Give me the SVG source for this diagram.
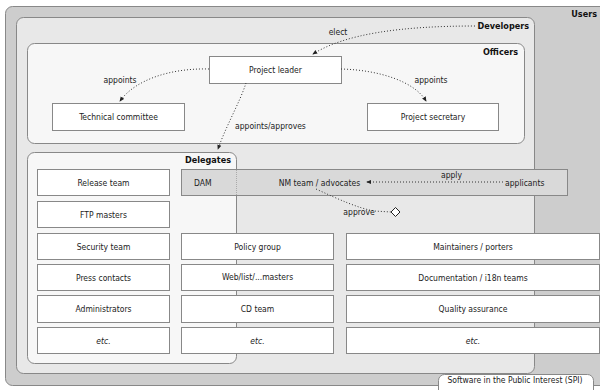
<svg xmlns="http://www.w3.org/2000/svg" width="600" height="390" viewBox="0 0 600 390">
<defs>
<style>
text{font-family:"DejaVu Sans Condensed","DejaVu Sans","Liberation Sans",sans-serif;font-stretch:condensed;font-size:8.5px;fill:#222}
.b{font-weight:bold;font-size:9px;text-anchor:end;fill:#111}
.c{text-anchor:middle}
.i{font-style:italic}
.box{fill:#fff;stroke:#888;stroke-width:1}
.grp{stroke:#888;stroke-width:1}
.dot{fill:none;stroke:#333;stroke-width:1;stroke-dasharray:1 2}
</style>
<marker id="ah" viewBox="0 0 6 6" refX="5" refY="3" markerWidth="5" markerHeight="5" orient="auto" markerUnits="userSpaceOnUse">
<path d="M0,0.5 L6,3 L0,5.5 z" fill="#222"/>
</marker>
</defs>
<rect width="600" height="390" fill="#fff"/>
<g id="users">
<rect class="grp" x="5.5" y="6.5" width="610" height="379" rx="7" fill="#cdcdcd" stroke="#8a8a8a"/>
<text class="b" x="597" y="17">Users</text>
</g>
<g id="developers">
<rect class="grp" x="16.5" y="17.5" width="518" height="356" rx="7" fill="#e8e8e8"/>
<text class="b" x="529" y="29">Developers</text>
</g>
<g id="officers">
<rect class="grp" x="27.5" y="43.5" width="497" height="100" rx="7" fill="#f7f7f7"/>
<text class="b" x="518" y="54.5">Officers</text>
</g>
<g id="project-leader">
<rect class="box" x="209.5" y="56.5" width="132" height="27"/>
<text class="c" x="275.5" y="73">Project leader</text>
</g>
<g id="technical-committee">
<rect class="box" x="52.5" y="103.5" width="132" height="27"/>
<text class="c" x="118.5" y="120">Technical committee</text>
</g>
<g id="project-secretary">
<rect class="box" x="367.5" y="103.5" width="131" height="27"/>
<text class="c" x="433" y="120">Project secretary</text>
</g>
<g id="delegates">
<rect class="grp" x="27.5" y="152.5" width="209" height="211" rx="7" fill="#f7f7f7"/>
<text class="b" x="231" y="163">Delegates</text>
</g>
<g id="nm-band">
<rect x="181.5" y="169.5" width="386" height="26" fill="#d9d9d9" stroke="#888"/>
<line x1="236.5" y1="170" x2="236.5" y2="195" stroke="#aaa" stroke-dasharray="1 1"/>
<text x="194" y="185.5">DAM</text>
<text class="c" x="319.5" y="185.5">NM team / advocates</text>
<text x="505" y="185.5">applicants</text>
</g>
<g id="release-team"><rect class="box" x="37.5" y="169.5" width="132" height="26"/><text class="c" x="103.5" y="185.5">Release team</text></g>
<g id="ftp-masters"><rect class="box" x="37.5" y="201.5" width="132" height="26"/><text class="c" x="103.5" y="217.5">FTP masters</text></g>
<g id="security-team"><rect class="box" x="37.5" y="233.5" width="132" height="26"/><text class="c" x="103.5" y="249.5">Security team</text></g>
<g id="press-contacts"><rect class="box" x="37.5" y="264.5" width="132" height="26"/><text class="c" x="103.5" y="280.5">Press contacts</text></g>
<g id="administrators"><rect class="box" x="37.5" y="295.5" width="132" height="27"/><text class="c" x="103.5" y="312">Administrators</text></g>
<g id="etc-1"><rect class="box" x="37.5" y="327.5" width="132" height="26"/><text class="c i" x="103.5" y="343.5">etc.</text></g>
<g id="policy-group"><rect class="box" x="181.5" y="233.5" width="152" height="26"/><text class="c" x="257.5" y="249.5">Policy group</text></g>
<g id="web-masters"><rect class="box" x="181.5" y="264.5" width="152" height="26"/><text class="c" x="257.5" y="279.5">Web/list/...masters</text></g>
<g id="cd-team"><rect class="box" x="181.5" y="295.5" width="152" height="27"/><text class="c" x="257.5" y="312">CD team</text></g>
<g id="etc-2"><rect class="box" x="181.5" y="327.5" width="152" height="26"/><text class="c i" x="257.5" y="343.5">etc.</text></g>
<g id="maintainers"><rect class="box" x="346.5" y="233.5" width="253" height="26"/><text class="c" x="473" y="249.5">Maintainers / porters</text></g>
<g id="documentation"><rect class="box" x="346.5" y="264.5" width="253" height="26"/><text class="c" x="473" y="280.5">Documentation / i18n teams</text></g>
<g id="quality-assurance"><rect class="box" x="346.5" y="295.5" width="253" height="27"/><text class="c" x="473" y="312">Quality assurance</text></g>
<g id="etc-3"><rect class="box" x="346.5" y="327.5" width="253" height="26"/><text class="c i" x="473" y="343.5">etc.</text></g>
<g id="spi">
<rect class="box" x="438.5" y="374.5" width="155" height="30" rx="6"/>
<text class="c" x="515" y="383">Software in the Public Interest (SPI)</text>
</g>
<g id="connectors">
<path class="dot" d="M475,26 C400,26 345,34 313,54" marker-end="url(#ah)"/>
<text class="c" x="338" y="35">elect</text>
<path class="dot" d="M209,69 C170,68 135,80 120,101" marker-end="url(#ah)"/>
<text class="c" x="120" y="83">appoints</text>
<path class="dot" d="M341,69 C380,70 415,82 426,101" marker-end="url(#ah)"/>
<text class="c" x="431" y="83">appoints</text>
<path class="dot" d="M246,83 C240,102 226,126 218,149" marker-end="url(#ah)"/>
<text x="235" y="129">appoints/approves</text>
<path class="dot" d="M503,182 L367,182" marker-end="url(#ah)"/>
<text class="c" x="451.5" y="178">apply</text>
<path class="dot" d="M316,189 C340,200 358,208 374,211 L391,212"/>
<text class="c" x="359" y="215">approve</text>
<path d="M391,212 L395.5,207.5 L400,212 L395.5,216.5 z" fill="#fff" stroke="#222" stroke-width="1"/>
</g>
</svg>
